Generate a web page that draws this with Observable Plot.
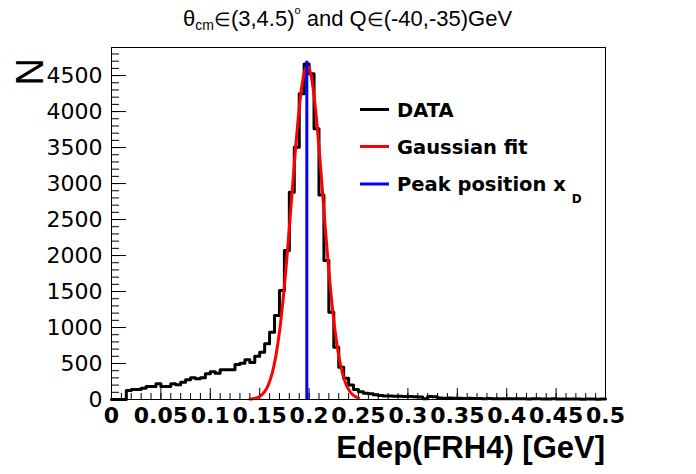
<!DOCTYPE html>
<html><head><meta charset="utf-8">
<script src="https://cdn.jsdelivr.net/npm/d3@7"></script>
<script src="https://cdn.jsdelivr.net/npm/@observablehq/plot@0.6"></script>
<style>body{margin:0;background:#fff} svg{display:block}</style>
</head><body><div id="chart"></div>
<script>
// Histogram: 100 bins of 0.005 GeV from 0 to 0.5
const binWidth = 0.005;
const counts = [
  0,0,0,125,139,139,157,180,180,218,
  180,180,218,204,240,273,301,287,301,357,
  385,366,412,412,412,486,505,551,515,600,
  657,774,935,1167,1514,2069,2879,3504,4246,4662,
  4524,3760,2840,1931,1213,726,449,295,200,140,
  108,87,79,66,55,50,48,45,44,42,
  40,38,36,10,40,38,20,19,22,17,
  18,15,16,14,15,12,13,11,12,10,
  11,9,10,12,8,9,10,7,8,9,
  7,8,6,7,8,5,6,7,5,6
];
// Gaussian fit parameters
const fitAmplitude = 4630;
const fitMean = 0.1982;
const fitSigma = 0.0158;
const fitRange = [0.14, 0.25];
// Peak position line
const peakX = 0.1977;
const peakTop = 4700;
// Axes
const xDomain = [0, 0.5];
const yDomain = [0, 4890];
const xMajorTicks = [0,0.05,0.1,0.15,0.2,0.25,0.3,0.35,0.4,0.45,0.5];
const xTickLabels = ["0","0.05","0.1","0.15","0.2","0.25","0.3","0.35","0.4","0.45","0.5"];
const yMajorTicks = [0,500,1000,1500,2000,2500,3000,3500,4000,4500];
const yTickLabels = ["0","500","1000","1500","2000","2500","3000","3500","4000","4500"];
const xMinorTicks = d3.range(0, 0.5001, 0.01);
const yMinorTicks = d3.range(0, 4890, 100);
const legendLabels = ["DATA", "Gaussian fit", "Peak position x"];
const legendColors = ["#000000", "#ff0000", "#0000ff"];

const histPts = counts.map((c, i) => ({x: i * binWidth, y: c}));
histPts.push({x: counts.length * binWidth, y: counts[counts.length - 1]});
const fitPts = d3.range(fitRange[0], fitRange[1] + 1e-9, 0.0005).map(x => ({x, y: fitAmplitude * Math.exp(-0.5 * ((x - fitMean) / fitSigma) ** 2)}));

const W = 696, H = 474, mL = 111, mR = 91, mT = 47, mB = 75;
const pw = W - mL - mR, ph = H - mT - mB;

const plot = Plot.plot({
  width: W, height: H,
  marginLeft: mL, marginRight: mR, marginTop: mT, marginBottom: mB,
  style: {background: "white", fontFamily: "DejaVu Sans", overflow: "visible"},
  x: {domain: xDomain},
  y: {domain: yDomain},
  marks: [
    Plot.axisX(xMajorTicks, {tickSize: 0, tickPadding: 8, tickFormat: (d, i) => xTickLabels[i], fontSize: 22, fontWeight: "bold", fontFamily: "DejaVu Sans", fill: "black", label: null}),
    Plot.axisY(yMajorTicks, {tickSize: 0, tickPadding: 9, tickFormat: (d, i) => yTickLabels[i], fontSize: 22, fontFamily: "DejaVu Sans", fill: "black", label: null}),
    Plot.ruleX(xMinorTicks, {stroke: "black", strokeWidth: 1, insetTop: ph - 6}),
    Plot.ruleX(xMajorTicks, {stroke: "black", strokeWidth: 1, insetTop: ph - 11}),
    Plot.ruleY(yMinorTicks, {stroke: "black", strokeWidth: 1, insetRight: pw - 8}),
    Plot.ruleY(yMajorTicks, {stroke: "black", strokeWidth: 1, insetRight: pw - 15}),
    Plot.line(histPts, {x: "x", y: "y", curve: "step-after", stroke: legendColors[0], strokeWidth: 3}),
    Plot.line(fitPts, {x: "x", y: "y", stroke: legendColors[1], strokeWidth: 3}),
    Plot.ruleX([peakX], {y1: 0, y2: peakTop, stroke: legendColors[2], strokeWidth: 3}),
    Plot.frame({stroke: "black", strokeWidth: 1})
  ]
});

const svg = d3.select(plot);
// Title
const t = svg.append("text").attr("x", 183).attr("y", 26).attr("text-anchor", "start")
  .attr("font-family", "Liberation Sans, Arial, sans-serif").attr("font-size", 22).attr("fill", "black");
t.append("tspan").text("θ");
t.append("tspan").attr("font-size", 14).attr("dy", 4).text("cm");
t.append("tspan").attr("dy", -4).attr("font-size", 19).text("∈");
t.append("tspan").text("(3,4.5)");
t.append("tspan").attr("font-size", 11).attr("dy", -12).text("o");
t.append("tspan").attr("dy", 12).text(" and Q");
t.append("tspan").attr("font-size", 19).text("∈");
t.append("tspan").text("(-40,-35)GeV");
// Y title
svg.append("text").attr("transform", "translate(43,58) rotate(-90)")
  .attr("text-anchor", "end").attr("font-family", "Liberation Sans, Arial, sans-serif")
  .attr("font-size", 38).attr("fill", "black").text("N");
// X title
svg.append("text").attr("x", 605).attr("y", 458).attr("text-anchor", "end")
  .attr("font-family", "Liberation Sans, Arial, sans-serif").attr("font-weight", "bold")
  .attr("font-size", 31).attr("fill", "black").text("Edep(FRH4) [GeV]");
// Legend
const rowsY = [109.5, 146.5, 184];
legendLabels.forEach((lab, i) => {
  svg.append("line").attr("x1", 360).attr("x2", 389).attr("y1", rowsY[i]).attr("y2", rowsY[i])
    .attr("stroke", legendColors[i]).attr("stroke-width", 3);
  const tx = svg.append("text").attr("x", 397).attr("y", rowsY[i] + 7.3).attr("text-anchor", "start")
    .attr("font-family", "DejaVu Sans").attr("font-weight", "bold").attr("font-size", 19.5).attr("fill", "black");
  tx.append("tspan").text(lab);
  if (i === 2) tx.append("tspan").attr("font-size", 12).attr("dx", 6).attr("dy", 11.5).text("D");
});

document.getElementById("chart").appendChild(plot);
</script>
</body></html>
